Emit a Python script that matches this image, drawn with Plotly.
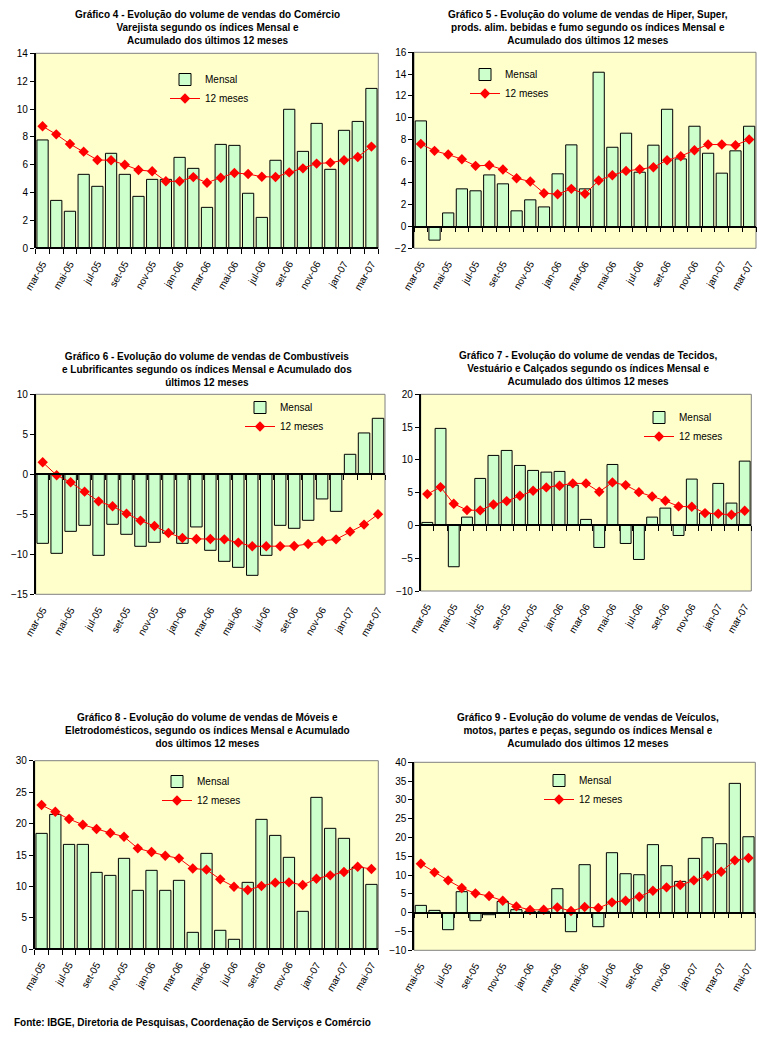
import plotly.graph_objects as go

# ---------------- data ----------------
MESES_MAR = ["mar-05", "abr-05", "mai-05", "jun-05", "jul-05", "ago-05", "set-05", "out-05", "nov-05", "dez-05",
             "jan-06", "fev-06", "mar-06", "abr-06", "mai-06", "jun-06", "jul-06", "ago-06", "set-06", "out-06",
             "nov-06", "dez-06", "jan-07", "fev-07", "mar-07"]
MESES_MAI = ["mai-05", "jun-05", "jul-05", "ago-05", "set-05", "out-05", "nov-05", "dez-05", "jan-06", "fev-06",
             "mar-06", "abr-06", "mai-06", "jun-06", "jul-06", "ago-06", "set-06", "out-06", "nov-06", "dez-06",
             "jan-07", "fev-07", "mar-07", "abr-07", "mai-07"]

g4_mensal = [7.78, 3.44, 2.66, 5.31, 4.45, 6.82, 5.31, 3.73, 4.95, 4.95, 6.53, 5.74, 2.94, 7.46, 7.39, 3.95, 2.22,
             6.32, 9.98, 6.96, 8.97, 5.67, 8.47, 9.11, 11.48]
g4_12m = [8.76, 8.18, 7.49, 6.94, 6.34, 6.32, 6.0, 5.62, 5.53, 4.81, 4.81, 5.11, 4.71, 5.07, 5.41, 5.33, 5.14, 5.12,
          5.45, 5.74, 6.08, 6.15, 6.32, 6.56, 7.3]

g5_mensal = [9.7, -1.25, 1.25, 3.46, 3.28, 4.74, 3.92, 1.44, 2.45, 1.8, 4.84, 7.5, 3.46, 14.17, 7.28, 8.57, 4.99,
             7.47, 10.77, 6.21, 9.21, 6.73, 4.9, 6.95, 9.21]
g5_12m = [7.59, 6.95, 6.61, 6.18, 5.57, 5.63, 5.23, 4.44, 4.13, 3.06, 2.97, 3.46, 3.0, 4.22, 4.71, 5.11, 5.26, 5.45,
          6.09, 6.46, 7.01, 7.53, 7.53, 7.47, 7.99]

g6_mensal = [-8.63, -9.88, -7.13, -6.38, -10.13, -6.25, -7.5, -9.0, -8.5, -7.38, -8.63, -6.58, -9.5, -10.88, -11.63,
             -12.63, -10.13, -6.38, -6.75, -5.75, -3.08, -4.63, 2.5, 5.17, 7.0]
g6_12m = [1.5, -0.12, -1.0, -2.17, -3.38, -4.0, -4.92, -5.79, -6.46, -7.33, -7.96, -8.08, -8.08, -8.13, -8.54, -9.0,
          -9.0, -9.0, -8.96, -8.71, -8.33, -8.13, -7.17, -6.29, -5.0]

g7_mensal = [0.46, 14.8, -6.3, 1.27, 7.17, 10.68, 11.44, 9.15, 8.39, 8.13, 8.24, 6.15, 0.92, -3.36, 9.3, -2.75, -5.19,
             1.27, 2.64, -1.53, 7.07, 1.88, 6.41, 3.41, 9.81]
g7_12m = [4.78, 5.85, 3.3, 2.34, 2.29, 3.2, 3.71, 4.52, 5.29, 5.8, 6.05, 6.41, 6.41, 5.13, 6.56, 6.15, 5.08, 4.42,
          3.76, 2.9, 2.85, 1.88, 1.78, 1.63, 2.24]

g8_mensal = [18.44, 21.46, 16.69, 16.69, 12.24, 11.76, 14.47, 9.38, 12.56, 9.38, 10.97, 2.7, 15.26, 3.02, 1.59, 10.65,
             20.67, 18.12, 14.63, 6.04, 24.17, 19.24, 17.65, 13.04, 10.33]
g8_12m = [22.95, 21.89, 20.72, 19.82, 19.13, 18.5, 17.91, 16.06, 15.47, 14.89, 14.47, 12.85, 12.67, 11.13, 9.96, 9.43,
          10.07, 10.6, 10.65, 10.23, 11.23, 11.76, 12.29, 13.14, 12.77]

g9_mensal = [1.95, 0.62, -4.52, 5.59, -2.13, -0.53, 2.98, 0.8, 0.27, 0.4, 6.38, -5.05, 12.77, -3.72, 15.96, 10.37,
             10.1, 18.1, 12.5, 8.33, 14.45, 19.95, 18.35, 34.4, 20.2]
g9_12m = [13.03, 10.73, 8.6, 6.56, 5.14, 4.43, 3.19, 1.68, 0.71, 0.8, 1.42, 0.44, 1.5, 1.24, 2.75, 3.19, 4.26, 5.85,
          6.74, 7.36, 8.6, 9.84, 10.9, 13.92, 14.54]

TITULOS = [
    "Gráfico 4 - Evolução do volume de vendas do Comércio<br>Varejista segundo os índices Mensal e<br>Acumulado dos últimos 12 meses",
    "Gráfico 5 - Evolução do volume de vendas de Hiper, Super,<br>prods. alim. bebidas e fumo segundo os índices Mensal e<br>Acumulado dos últimos 12 meses",
    "Gráfico 6 - Evolução do volume de vendas de Combustíveis<br>e Lubrificantes segundo os índices Mensal e Acumulado dos<br>últimos 12 meses",
    "Gráfico 7 - Evolução do volume de vendas de Tecidos,<br>Vestuário e Calçados segundo os índices Mensal e<br>Acumulado dos últimos 12 meses",
    "Gráfico 8 - Evolução do volume de vendas de Móveis e<br>Eletrodomésticos, segundo os índices Mensal e Acumulado<br>dos últimos 12 meses",
    "Gráfico 9 - Evolução do volume de vendas de Veículos,<br>motos, partes e peças, segundo os índices Mensal e<br>Acumulado dos últimos 12 meses",
]
FONTE = "Fonte: IBGE, Diretoria de Pesquisas, Coordenação de Serviços e Comércio"

# ---------------- layout helpers ----------------
OFF = 8                      # default page margin of the browser body
W, H = 780 - 2 * OFF, 1041 - 2 * OFF
FONT = "Liberation Sans, Arial, sans-serif"


def fx(p):
    return (p - OFF) / W


def fy(p):
    return 1 - (p - OFF) / H


panels = [
    dict(meses=MESES_MAR, mensal=g4_mensal, doze=g4_12m, dom_x=(35.7, 378.3), dom_y=(53.3, 248.3),
         yr=(0, 14), dt=2, title_xy=(207, 27), leg=(165, 65)),
    dict(meses=MESES_MAR, mensal=g5_mensal, doze=g5_12m, dom_x=(414, 756), dom_y=(52.3, 248.3),
         yr=(-2, 16), dt=2, title_xy=(588, 27), leg=(465, 60)),
    dict(meses=MESES_MAR, mensal=g6_mensal, doze=g6_12m, dom_x=(35.7, 385), dom_y=(394.3, 594.3),
         yr=(-15, 10), dt=5, title_xy=(207, 369), leg=(240, 393)),
    dict(meses=MESES_MAR, mensal=g7_mensal, doze=g7_12m, dom_x=(420.7, 751.3), dom_y=(394.3, 591),
         yr=(-10, 20), dt=5, title_xy=(588, 368), leg=(639, 403)),
    dict(meses=MESES_MAI, mensal=g8_mensal, doze=g8_12m, dom_x=(34.7, 378.3), dom_y=(760.7, 949.3),
         yr=(0, 30), dt=5, title_xy=(207, 730), leg=(157, 767)),
    dict(meses=MESES_MAI, mensal=g9_mensal, doze=g9_12m, dom_x=(414, 755.3), dom_y=(762.3, 950.3),
         yr=(-10, 40), dt=5, title_xy=(588, 730), leg=(539, 766)),
]

fig = go.Figure()
layout = dict(
    template="none",
    width=W, height=H, margin=dict(l=0, r=0, t=0, b=0, pad=0), autosize=False,
    paper_bgcolor="white", plot_bgcolor="#FFFFCC", bargap=0.18,
    font=dict(family=FONT, size=10, color="black"),
)
shapes = []
annotations = []

for i, p in enumerate(panels):
    n = i + 1
    sfx = "" if n == 1 else str(n)
    xa, ya = "x" + sfx, "y" + sfx
    legname = "legend" + sfx
    k = n + 6  # extra x axis carrying the zero line with ticks
    idx = list(range(len(p["meses"])))

    fig.add_trace(go.Bar(x=idx, y=p["mensal"], name="Mensal", xaxis=xa, yaxis=ya, legend=legname,
                         marker=dict(color="#CCFFCC", line=dict(color="black", width=1))))
    fig.add_trace(go.Scatter(x=idx, y=p["doze"], name="12 meses", mode="lines+markers", xaxis=xa, yaxis=ya,
                             legend=legname, line=dict(color="#FF0000", width=1),
                             marker=dict(symbol="diamond", size=8, color="#FF0000")))
    fig.add_trace(go.Scatter(x=[], y=[], xaxis="x" + str(k), yaxis=ya, showlegend=False, hoverinfo="skip"))

    x0, x1 = fx(p["dom_x"][0]), fx(p["dom_x"][1])
    y0, y1 = fy(p["dom_y"][1]), fy(p["dom_y"][0])
    ymin, ymax = p["yr"]
    rng = [-0.5, len(idx) - 0.5]

    layout["xaxis" + sfx] = dict(
        domain=[x0, x1], anchor=ya, range=rng, tickmode="array", automargin=False,
        tickvals=idx[::2], ticktext=p["meses"][::2], tickangle=-60, ticks="outside", ticklen=5,
        tickcolor="rgba(0,0,0,0)", showline=False,
        showgrid=False, zeroline=False, tickfont=dict(size=10, family=FONT), fixedrange=True,
    )
    zero_pos = y0 + (0 - ymin) / (ymax - ymin) * (y1 - y0)
    layout["xaxis" + str(k)] = dict(
        overlaying=xa, anchor="free", position=zero_pos, range=rng, tickmode="array", automargin=False,
        tickvals=[v - 0.5 for v in idx] + [len(idx) - 0.5], showticklabels=False, ticks="outside",
        ticklen=5, tickwidth=1, tickcolor="black", showline=True, linecolor="black", linewidth=1.5,
        showgrid=False, zeroline=False,
    )
    layout["yaxis" + sfx] = dict(
        domain=[y0, y1], anchor=xa, range=[ymin, ymax], dtick=p["dt"], tick0=ymin, ticks="outside",
        ticklen=4, tickcolor="black", showline=True, linecolor="black", linewidth=1.5, showgrid=False,
        zeroline=False, tickfont=dict(size=10, family=FONT), fixedrange=True, automargin=False,
    )
    layout[legname] = dict(
        x=fx(p["leg"][0]), y=fy(p["leg"][1]), xanchor="left", yanchor="top",
        bgcolor="rgba(0,0,0,0)", font=dict(size=10, family=FONT), tracegroupgap=0,
    )
    shapes.append(dict(type="rect", xref=xa + " domain", yref=ya + " domain", x0=0, x1=1, y0=0, y1=1,
                       line=dict(color="#808080", width=1), fillcolor="rgba(0,0,0,0)", layer="below"))
    annotations.append(dict(text="<b>" + TITULOS[i] + "</b>", xref="paper", yref="paper",
                            x=fx(p["title_xy"][0]), y=fy(p["title_xy"][1]), xanchor="center",
                            yanchor="middle", showarrow=False, align="center",
                            font=dict(size=10, family=FONT, color="black")))

annotations.append(dict(text="<b>" + FONTE + "</b>", xref="paper", yref="paper", x=fx(12), y=fy(1022),
                        xanchor="left", yanchor="middle", showarrow=False,
                        font=dict(size=10, family=FONT, color="black")))

layout["shapes"] = shapes
layout["annotations"] = annotations
fig.update_layout(**layout)
fig.write_html("out.html")
